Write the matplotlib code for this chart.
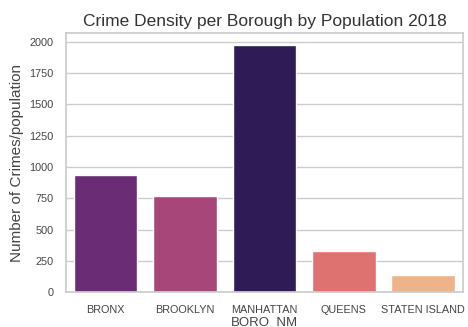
import matplotlib
matplotlib.use("Agg")
import matplotlib.pyplot as plt
import seaborn as sns
import pandas as pd

# ── Data ─────────────────────────────────────────────────────────────────────
boroughs = ["BRONX", "BROOKLYN", "MANHATTAN", "QUEENS", "STATEN ISLAND"]
crime_density = [933, 770, 1973, 329, 137]

df = pd.DataFrame({"BORO_NM": boroughs, "density": crime_density})

sns.set_theme(style="whitegrid")
plt.rcParams['font.family'] = ['Liberation Sans', 'DejaVu Sans']

# magma shades assigned by rank (highest density = darkest)
shades = sns.color_palette("magma", len(boroughs))
ranked = df.sort_values("density", ascending=False)["BORO_NM"].tolist()
palette = {b: shades[i] for i, b in enumerate(ranked)}

fig, ax = plt.subplots(figsize=(4.68, 3.27), dpi=100)
sns.barplot(data=df, x="BORO_NM", y="density", hue="BORO_NM",
            palette=palette, order=boroughs, legend=False, ax=ax)

ax.set_title("Crime Density per Borough by Population 2018", fontsize=12.5,
             color="#333333", pad=5)
ax.set_xlabel("BORO_NM", fontsize=9.5, labelpad=1, color="#444444")
ax.set_ylabel("Number of Crimes/population", fontsize=11, labelpad=4,
              color="#444444")
ax.tick_params(axis='both', labelsize=7.8, pad=3, labelcolor="#444444")
ax.set_yticks(range(0, 2001, 250))

fig.subplots_adjust(left=0.141, right=0.989, top=0.899, bottom=0.107)
fig.savefig("out.png", dpi=100)
